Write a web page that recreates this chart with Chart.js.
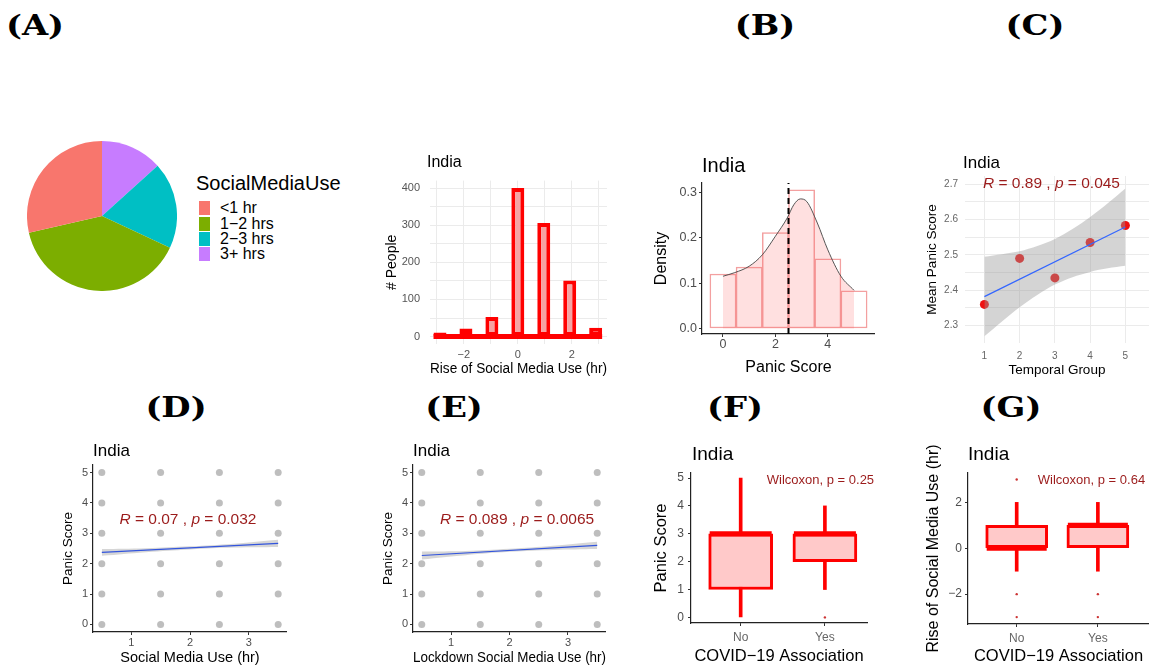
<!DOCTYPE html>
<html><head><meta charset="utf-8">
<script src="https://cdn.jsdelivr.net/npm/chart.js@4.4.1/dist/chart.umd.min.js"></script>
<style>
html,body{margin:0;padding:0;background:#fff;}
body{width:1149px;height:670px;position:relative;overflow:hidden;font-family:"Liberation Sans",Arial,sans-serif;}
canvas{position:absolute;}
.lbl{position:absolute;font-family:"DejaVu Serif",serif;font-weight:bold;font-size:27px;transform:translate(-50%,-50%) scaleX(1.25);white-space:nowrap;color:#000;}
.ttl{position:absolute;transform:translateY(-50%);white-space:nowrap;color:#000;line-height:1;}
.abs{position:absolute;white-space:nowrap;line-height:1;}
</style></head><body>
<script>
// ---------------- DATA ----------------
// Panel A: pie
const smuCats = ['<1 hr', '1\u22122 hrs', '2\u22123 hrs', '3+ hrs'];
const smuShares = [28.6, 39.5, 18.7, 13.3];
const smuColors = ['#F8766D', '#7CAE00', '#00BFC4', '#C77CFF'];

// Histogram: rise of social media use
const histCenters = [-2.88, -1.92, -0.96, 0, 0.96, 1.92, 2.88];
const histCounts = [11, 22, 53, 400, 306, 151, 24];
const histSpan = [-3.12, 3.12];
const histXTicks = [-3, -2, -1, 0, 1, 2, 3];
const histXLabels = ['', '\u22122', '', '0', '', '2', ''];
const histYTicks = [0, 50, 100, 150, 200, 250, 300, 350, 400];
const histYLabels = ['0', '', '100', '', '200', '', '300', '', '400'];

// Panel B: panic score density
const panicBins = [0, 1, 2, 3, 4, 5];
const panicBinDensity = [0.12, 0.135, 0.211, 0.305, 0.153, 0.083];
const densX = [0, 0.45, 1.0, 1.5, 2.0, 2.45, 2.7, 2.95, 3.2, 3.6, 4.0, 4.5, 5.0];
const densY = [0.115, 0.123, 0.137, 0.162, 0.203, 0.243, 0.272, 0.285, 0.279, 0.232, 0.173, 0.115, 0.084];
const panicMean = 2.5;
const densXTicks = [0, 2, 4];
const densYTicks = [0, 0.1, 0.2, 0.3];
const densYLabels = ['0.0', '0.1', '0.2', '0.3'];

// Panel C: temporal group
const temporalGroups = [1, 2, 3, 4, 5];
const meanPanic = [2.36, 2.49, 2.435, 2.535, 2.583];
const cFitX = [1, 5];
const cFitY = [2.382, 2.579];
const cBandX = [1, 1.5, 2, 2.5, 3, 3.5, 4, 4.5, 5];
const cBandUp = [2.495, 2.502, 2.51, 2.525, 2.545, 2.573, 2.607, 2.646, 2.688];
const cBandLo = [2.27, 2.312, 2.352, 2.387, 2.416, 2.437, 2.452, 2.462, 2.469];
const cYTicks = [2.3, 2.35, 2.4, 2.45, 2.5, 2.55, 2.6, 2.65, 2.7];
const cYLabels = ['2.3', '', '2.4', '', '2.5', '', '2.6', '', '2.7'];

// Panels D / E: scatter of panic score vs use
const useLevels = [0.5, 1.5, 2.5, 3.5];
const panicLevels = [0, 1, 2, 3, 4, 5];
const dFitX = [0.5, 3.5];
const dFitY = [2.37, 2.67];
const dBandX = [0.5, 1.25, 2, 2.75, 3.5];
const dBandUp = [2.48, 2.51, 2.57, 2.66, 2.79];
const dBandLo = [2.26, 2.38, 2.47, 2.53, 2.55];
const eFitX = [0.5, 3.5];
const eFitY = [2.27, 2.60];
const eBandX = [0.5, 1.25, 2, 2.75, 3.5];
const eBandUp = [2.40, 2.42, 2.49, 2.59, 2.72];
const eBandLo = [2.14, 2.28, 2.39, 2.45, 2.48];
const useXTicks = [1, 2, 3];
const panicTicks = [0, 1, 2, 3, 4, 5];

// Panels F / G: box plots by COVID-19 association
const covidGroups = ['No', 'Yes'];
const covidPos = [1, 2];
const fLo = [0, 1], fQ1 = [1, 2], fMed = [3, 3], fQ3 = [3, 3], fHi = [5, 4];
const fOut = [[], [0]];
const gLo = [-1, -1], gQ1 = [0, 0], gMed = [0, 1], gQ3 = [1, 1], gHi = [2, 2];
const gOut = [[3, -2, -3], [-2, -3]];
const gYTicks = [-2, 0, 2];
const gYLabels = ['\u22122', '0', '2'];

// ---------------- SETUP ----------------
const SANS = '"Liberation Sans", Arial, sans-serif';
Chart.defaults.font.family = SANS;
Chart.defaults.animation = false;
Chart.defaults.events = [];
Chart.defaults.plugins.legend.display = false;
Chart.defaults.plugins.tooltip.enabled = false;

const annotPlugin = {
  id: 'annot',
  afterDatasetsDraw(chart, args, opts) {
    if (!opts || !opts.parts) return;
    const ctx = chart.ctx, xs = chart.scales.x, ys = chart.scales.y;
    let px = xs.getPixelForValue(opts.x);
    const py = ys.getPixelForValue(opts.y);
    ctx.save();
    ctx.fillStyle = opts.color;
    ctx.textBaseline = 'middle';
    ctx.textAlign = 'left';
    for (const [txt, it] of opts.parts) {
      ctx.font = (it ? 'italic ' : '') + opts.size + 'px ' + SANS;
      ctx.fillText(txt, px, py);
      px += ctx.measureText(txt).width;
    }
    ctx.restore();
  }
};
Chart.register(annotPlugin);

function mkCanvas(plot, yW, xH, padT, padR) {
  const c = document.createElement('canvas');
  const left = plot[0] - yW, top = plot[1] - padT;
  const w = plot[2] + (padR || 0) - left, h = plot[3] + xH - top;
  c.width = w; c.height = h;
  c.style.left = left + 'px'; c.style.top = top + 'px';
  c.style.width = w + 'px'; c.style.height = h + 'px';
  document.body.appendChild(c);
  return c;
}
function axis(p) {
  const isY = p.pos === 'left';
  return {
    type: 'linear', position: p.pos, min: p.min, max: p.max, offset: false, bounds: 'data',
    afterBuildTicks: s => { s.ticks = p.ticks.map(v => ({ value: v })); s.min = p.min; s.max = p.max; },
    afterFit: s => { if (isY) s.width = p.fit; else s.height = p.fit; },
    ticks: {
      autoSkip: false, maxRotation: 0, minRotation: 0, padding: p.pad,
      color: p.tcolor || '#4D4D4D', font: { size: p.size },
      callback: (v, i) => p.labels ? p.labels[i] : String(v)
    },
    grid: p.minimal
      ? { color: '#EBEBEB', lineWidth: 1, drawTicks: false, offset: false }
      : { drawOnChartArea: false, drawTicks: true, tickLength: 3, tickColor: '#333', tickWidth: 1, offset: false },
    border: p.minimal ? { display: false } : { display: true, color: '#222', width: 1.2 },
    title: { display: true, text: p.title, color: '#000', font: { size: p.tsize }, padding: { top: p.tpad, bottom: p.tpad } }
  };
}
function baseOpts(scales, annot, padT, padR) {
  return {
    responsive: false, maintainAspectRatio: false,
    layout: { autoPadding: false, padding: { top: padT || 12, right: padR || 0, bottom: 0, left: 0 } },
    scales, plugins: { annot: annot || {} }
  };
}
function html(cls, text, x, y, size, extra) {
  const d = document.createElement('div');
  d.className = cls; d.textContent = text;
  d.style.left = x + 'px'; d.style.top = y + 'px';
  if (size) d.style.fontSize = size + 'px';
  if (extra) Object.assign(d.style, extra);
  document.body.appendChild(d);
  return d;
}

// ---------------- Panel letters ----------------
[['(A)', 35, 25], ['(B)', 765, 25], ['(C)', 1035, 25], ['(D)', 176, 407], ['(E)', 454, 407], ['(F)', 735, 407], ['(G)', 1011, 407]]
  .forEach(([t, x, y]) => html('lbl', t, x, y));

// ---------------- Panel A: pie ----------------
(function () {
  const c = document.createElement('canvas');
  c.width = 150; c.height = 150;
  Object.assign(c.style, { left: '27px', top: '141px', width: '150px', height: '150px' });
  document.body.appendChild(c);
  new Chart(c, {
    type: 'pie',
    data: {
      labels: smuCats.slice().reverse(),
      datasets: [{ data: smuShares.slice().reverse(), backgroundColor: smuColors.slice().reverse(), borderWidth: 0 }]
    },
    options: { responsive: false, layout: { padding: 0 } }
  });
  html('abs', 'SocialMediaUse', 196, 173, 20);
  smuCats.forEach((cat, i) => {
    const cy = 208.3 + i * 15.3;
    html('abs', '', 199, cy - 7, null, { width: '11px', height: '14px', background: smuColors[i] });
    html('abs', cat, 220, cy - 8, 16);
  });
})();

// ---------------- Histogram ----------------
(function () {
  const plot = [430, 176, 607, 344];
  const c = mkCanvas(plot, 50, 36, 12);
  new Chart(c, {
    type: 'scatter',
    data: {
      datasets: [
        { type: 'bar', data: histCenters.map((x, i) => ({ x, y: histCounts[i] })), backgroundColor: '#F6A3A3', borderColor: '#FF0000', borderWidth: 4, borderSkipped: false, barPercentage: 0.5, categoryPercentage: 1 },
        { type: 'line', data: histSpan.map(x => ({ x, y: 0 })), borderColor: '#FF0000', borderWidth: 5, pointRadius: 0 }
      ]
    },
    options: baseOpts({
      x: axis({ pos: 'bottom', min: -3.25, max: 3.3, ticks: histXTicks, labels: histXLabels, fit: 36, pad: 4, size: 11, tcolor: '#555', minimal: true, title: 'Rise of Social Media Use (hr)', tsize: 14, tpad: 2 }),
      y: axis({ pos: 'left', min: -20, max: 420, ticks: histYTicks, labels: histYLabels, fit: 50, pad: 10, size: 11, tcolor: '#555', minimal: true, title: '# People', tsize: 14, tpad: 4 })
    })
  });
  html('ttl', 'India', 427, 162, 16);
})();

// ---------------- Panel B: density ----------------
(function () {
  const plot = [702, 183, 875, 334];
  const yMin = -0.012, yMax = 0.32;
  const c = mkCanvas(plot, 52, 45, 12);
  new Chart(c, {
    type: 'scatter',
    data: {
      datasets: [
        { type: 'line', data: [{ x: panicMean, y: yMin }, { x: panicMean, y: yMax }], borderColor: '#000', borderWidth: 2, borderDash: [6, 4], pointRadius: 0 },
        { type: 'line', data: densX.map((x, i) => ({ x, y: densY[i] })), borderColor: '#444', borderWidth: 0.9, backgroundColor: 'rgba(255,102,102,0.2)', fill: 'origin', pointRadius: 0, cubicInterpolationMode: 'monotone' },
        { type: 'bar', data: panicBins.map((x, i) => ({ x, y: panicBinDensity[i] })), backgroundColor: '#FFFFFF', borderColor: '#F3A0A0', borderWidth: 1.5, borderSkipped: false, barPercentage: 1, categoryPercentage: 1 }
      ]
    },
    options: baseOpts({
      x: axis({ pos: 'bottom', min: -0.8, max: 5.8, ticks: densXTicks, fit: 45, pad: 0, size: 12.5, title: 'Panic Score', tsize: 16, tpad: 2 }),
      y: axis({ pos: 'left', min: yMin, max: yMax, ticks: densYTicks, labels: densYLabels, fit: 52, pad: 2, size: 12.5, title: 'Density', tsize: 16, tpad: 2 })
    })
  });
  html('ttl', 'India', 702, 165, 20);
})();

// ---------------- Panel C ----------------
(function () {
  const plot = [965, 175, 1149, 343];
  const c = mkCanvas(plot, 43, 37, 12);
  new Chart(c, {
    type: 'scatter',
    data: {
      datasets: [
        { type: 'line', data: cFitX.map((x, i) => ({ x, y: cFitY[i] })), borderColor: '#3366FF', borderWidth: 1.2, pointRadius: 0 },
        { type: 'line', data: cBandX.map((x, i) => ({ x, y: cBandUp[i] })), borderColor: 'rgba(0,0,0,0)', backgroundColor: 'rgba(153,153,153,0.42)', fill: '+1', pointRadius: 0, tension: 0.3 },
        { type: 'line', data: cBandX.map((x, i) => ({ x, y: cBandLo[i] })), borderColor: 'rgba(0,0,0,0)', fill: false, pointRadius: 0, tension: 0.3 },
        { type: 'scatter', data: temporalGroups.map((x, i) => ({ x, y: meanPanic[i] })), pointRadius: 4.5, backgroundColor: '#EE1111', borderWidth: 0 }
      ]
    },
    options: baseOpts({
      x: axis({ pos: 'bottom', min: 0.45, max: 5.67, ticks: temporalGroups, fit: 37, pad: 7, size: 10, tcolor: '#666', minimal: true, title: 'Temporal Group', tsize: 13.5, tpad: 2 }),
      y: axis({ pos: 'left', min: 2.251, max: 2.723, ticks: cYTicks, labels: cYLabels, fit: 43, pad: 7, size: 10, tcolor: '#666', minimal: true, title: 'Mean Panic Score', tsize: 13.5, tpad: 2 })
    }, { x: 0.96, y: 2.70, size: 15.5, color: '#9B1B1B', parts: [['R', true], [' = 0.89 , ', false], ['p', true], [' = 0.045', false]] })
  });
  html('ttl', 'India', 963, 162, 17);
})();

// ---------------- Panels D / E ----------------
function scatterPanel(plot, fitX, fitY, bandX, bandUp, bandLo, xTitle, annotX, annotY, parts, titleX) {
  const c = mkCanvas(plot, 35, 36, 12);
  const pts = [];
  useLevels.forEach(x => panicLevels.forEach(y => pts.push({ x, y })));
  new Chart(c, {
    type: 'scatter',
    data: {
      datasets: [
        { type: 'line', data: fitX.map((x, i) => ({ x, y: fitY[i] })), borderColor: '#3355DD', borderWidth: 1.2, pointRadius: 0 },
        { type: 'line', data: bandX.map((x, i) => ({ x, y: bandUp[i] })), borderColor: 'rgba(0,0,0,0)', backgroundColor: 'rgba(153,153,153,0.4)', fill: '+1', pointRadius: 0, tension: 0.4 },
        { type: 'line', data: bandX.map((x, i) => ({ x, y: bandLo[i] })), borderColor: 'rgba(0,0,0,0)', fill: false, pointRadius: 0, tension: 0.4 },
        { type: 'scatter', data: pts, pointRadius: 3.5, backgroundColor: '#BEBEBE', borderWidth: 0 }
      ]
    },
    options: baseOpts({
      x: axis({ pos: 'bottom', min: 0.35, max: 3.65, ticks: useXTicks, fit: 36, pad: 1, size: 11, title: xTitle, tsize: 14.5, tpad: 1 }),
      y: axis({ pos: 'left', min: -0.25, max: 5.25, ticks: panicTicks, fit: 35, pad: 2, size: 11, title: 'Panic Score', tsize: 13.5, tpad: 2 })
    }, { x: annotX, y: annotY, size: 15.5, color: '#9B1B1B', parts })
  });
  html('ttl', 'India', titleX, 450, 17);
}
scatterPanel([93, 465, 287, 632], dFitX, dFitY, dBandX, dBandUp, dBandLo, 'Social Media Use (hr)', 0.80, 3.44,
  [['R', true], [' = 0.07 , ', false], ['p', true], [' = 0.032', false]], 93);
scatterPanel([413, 465, 606, 632], eFitX, eFitY, eBandX, eBandUp, eBandLo, 'Lockdown Social Media Use (hr)', 0.81, 3.46,
  [['R', true], [' = 0.089 , ', false], ['p', true], [' = 0.0065', false]], 413);

// ---------------- Panels F / G ----------------
function boxPanel(plot, yW, xH, padT, padR, xMin, xMax, yMin, yMax, yTicks, yLabels, lo, q1, med, q3, hi, outs, boxW, yTitle, yTS, annot, titleX, yPad) {
  const c = mkCanvas(plot, yW, xH, padT, padR);
  const outPts = [];
  outs.forEach((arr, i) => arr.forEach(v => outPts.push({ x: covidPos[i], y: v })));
  new Chart(c, {
    type: 'scatter',
    data: {
      datasets: [
        { type: 'scatter', data: outPts, pointRadius: 1.2, backgroundColor: '#CC3333', borderWidth: 0 },
        { type: 'scatter', data: covidPos.map((x, i) => ({ x, y: med[i] })), pointStyle: 'line', pointRadius: boxW / 2 - 1, pointBorderWidth: 5, pointBorderColor: '#FF0000', borderColor: '#FF0000' },
        { type: 'bar', data: covidPos.map((x, i) => ({ x, y: [q1[i], q3[i]] })), backgroundColor: '#FFC9C9', borderColor: '#FF0000', borderWidth: 3, borderSkipped: false, barThickness: boxW, grouped: false },
        { type: 'bar', data: covidPos.map((x, i) => ({ x, y: [lo[i], hi[i]] })), backgroundColor: '#FF0000', borderWidth: 0, barThickness: 3, grouped: false }
      ]
    },
    options: baseOpts({
      x: axis({ pos: 'bottom', min: xMin, max: xMax, ticks: covidPos, labels: covidGroups, fit: xH, pad: 4, size: 12, tcolor: '#666', title: 'COVID\u221219 Association', tsize: 16.5, tpad: 1 }),
      y: axis({ pos: 'left', min: yMin, max: yMax, ticks: yTicks, labels: yLabels, fit: yW, pad: yPad, size: 12, title: yTitle, tsize: yTS, tpad: 2 })
    }, annot, padT, padR)
  });
  html('ttl', 'India', titleX, 453, 19);
}
boxPanel([691, 473, 867, 623], 41, 44, 12, 14, 0.41, 2.5, -0.2, 5.18, panicTicks, null, fLo, fQ1, fMed, fQ3, fHi, fOut, 64,
  'Panic Score', 16.5, { x: 1.31, y: 4.9, size: 13, color: '#9B1B1B', parts: [['Wilcoxon, p = 0.25', false]] }, 692, 4);
boxPanel([968, 473, 1149, 624], 46, 43, 45, 0, 0.40, 2.63, -3.3, 3.28, gYTicks, gYLabels, gLo, gQ1, gMed, gQ3, gHi, gOut, 62,
  'Rise of Social Media Use (hr)', 16, { x: 1.26, y: 2.97, size: 13, color: '#9B1B1B', parts: [['Wilcoxon, p = 0.64', false]] }, 968, 3);
</script>
</body></html>
